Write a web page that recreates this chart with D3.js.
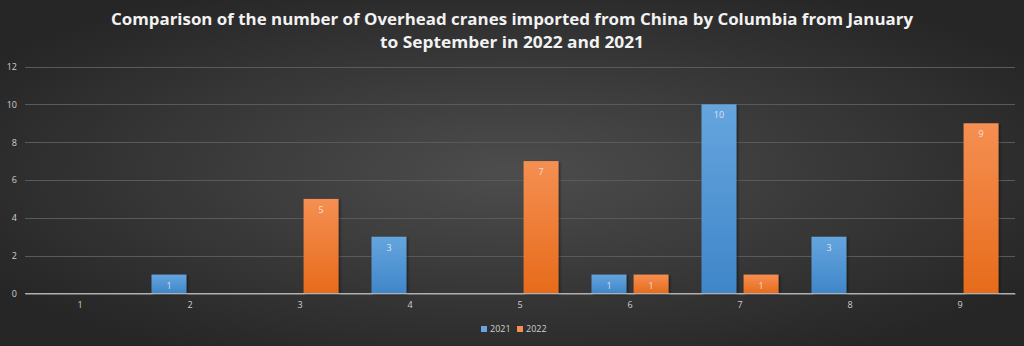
<!DOCTYPE html>
<html><head><meta charset="utf-8">
<script src="https://cdn.jsdelivr.net/npm/d3@7"></script>
<style>html,body{margin:0;padding:0;background:#333;}svg{display:block;}</style>
</head><body>
<svg id="chart" width="1024" height="346"></svg>
<script>
const categories = ["1","2","3","4","5","6","7","8","9"];
const seriesNames = ["2021","2022"];
const values2021 = [0,1,0,3,0,1,10,3,0];
const values2022 = [0,0,5,0,7,1,1,0,9];
const yTicks = [0,2,4,6,8,10,12];
const titleLines = ["Comparison of the number of Overhead cranes imported from China by Columbia from January","to September in 2022 and 2021"];
const colors = {"2021":["#66a5de","#3f86c9"],"2022":["#f58f52","#e76b1b"]};

const W=1024,H=346;
const svg=d3.select("#chart");
const defs=svg.append("defs");
const bg=defs.append("radialGradient").attr("id","bg").attr("cx","50%").attr("cy","50%").attr("r","60%");
bg.append("stop").attr("offset","0%").attr("stop-color","#4d4d4d");
bg.append("stop").attr("offset","100%").attr("stop-color","#262626");
seriesNames.forEach(s=>{
  const g=defs.append("linearGradient").attr("id","g"+s).attr("x1",0).attr("y1",0).attr("x2",0).attr("y2",1);
  g.append("stop").attr("offset","0%").attr("stop-color",colors[s][0]);
  g.append("stop").attr("offset","100%").attr("stop-color",colors[s][1]);
});
const sh=defs.append("filter").attr("id","sh").attr("x","-20%").attr("y","-20%").attr("width","150%").attr("height","150%");
sh.append("feDropShadow").attr("dx",1.5).attr("dy",1).attr("stdDeviation",1.2).attr("flood-color","#000").attr("flood-opacity",0.45);

svg.append("rect").attr("width",W).attr("height",H).attr("fill","url(#bg)");

const pLeft=25,pRight=1015,pTop=66.5,pBottom=293.5;
const y=d3.scaleLinear().domain([0,12]).range([pBottom,pTop]);
const x0=d3.scaleBand().domain(categories).range([pLeft,pRight]).paddingInner(0.3).paddingOuter(0.15);
const x1=d3.scaleBand().domain(seriesNames).range([0,x0.bandwidth()]).paddingInner(0.17);

// grid
svg.append("g").selectAll("line").data(yTicks.filter(d=>d>0)).join("line")
  .attr("x1",pLeft).attr("x2",pRight).attr("y1",d=>Math.round(y(d))+0.5).attr("y2",d=>Math.round(y(d))+0.5)
  .attr("stroke","#5a5a5a").attr("stroke-width",1);

// y labels
const yAxis=d3.axisLeft(y).tickValues(yTicks).tickSize(0).tickPadding(8);
const ya=svg.append("g").attr("transform",`translate(${pLeft},0)`).call(yAxis);
ya.select(".domain").remove();
ya.selectAll("text").attr("fill","#cfcfcf").style("font-family","'Open Sans',sans-serif").style("font-size","9px");

// x axis
const xAxis=d3.axisBottom(x0).tickSize(0).tickPadding(8);
const xa=svg.append("g").attr("transform",`translate(0,${pBottom})`).call(xAxis);
xa.select(".domain").attr("stroke","#b0b0b0").attr("stroke-width",1.2);
xa.selectAll("text").attr("fill","#cfcfcf").style("font-family","'Open Sans',sans-serif").style("font-size","9px");

// bars
const data=categories.map((c,i)=>({cat:c,vals:[{s:"2021",v:values2021[i]},{s:"2022",v:values2022[i]}]}));
const groups=svg.append("g").selectAll("g").data(data).join("g").attr("transform",d=>`translate(${x0(d.cat)},0)`);
const bars=groups.selectAll("g").data(d=>d.vals.filter(e=>e.v>0)).join("g");
bars.append("rect").attr("x",d=>x1(d.s)).attr("width",x1.bandwidth())
  .attr("y",d=>y(d.v)).attr("height",d=>pBottom-y(d.v))
  .attr("fill",d=>`url(#g${d.s})`).attr("filter","url(#sh)");
bars.append("text").attr("x",d=>x1(d.s)+x1.bandwidth()/2).attr("y",d=>y(d.v)+14)
  .attr("text-anchor","middle").attr("fill","#f2f2f2").attr("fill-opacity",0.85)
  .style("font-family","'Open Sans',sans-serif").style("font-size","9px").text(d=>d.v);

// redraw baseline over bars
svg.append("line").attr("x1",pLeft).attr("x2",pRight).attr("y1",pBottom).attr("y2",pBottom).attr("stroke","#b0b0b0").attr("stroke-width",1.2);

// title
const tt=svg.append("g");
tt.append("text").attr("x",512).attr("y",25).attr("text-anchor","middle").attr("fill","#f2f2f2")
  .style("font-family","'Open Sans',sans-serif").style("font-weight","bold").style("font-size","15.5px")
  .attr("textLength",802).attr("lengthAdjust","spacingAndGlyphs").text(titleLines[0]);
tt.append("text").attr("x",512).attr("y",48).attr("text-anchor","middle").attr("fill","#f2f2f2")
  .style("font-family","'Open Sans',sans-serif").style("font-weight","bold").style("font-size","15.5px")
  .attr("textLength",264).attr("lengthAdjust","spacingAndGlyphs").text(titleLines[1]);

// legend
const leg=svg.append("g");
const legX={"2021":481,"2022":517};
seriesNames.forEach(s=>{
  leg.append("rect").attr("x",legX[s]).attr("y",326).attr("width",6).attr("height",6).attr("fill",colors[s][0]);
  leg.append("text").attr("x",legX[s]+9).attr("y",332).attr("fill","#cfcfcf")
    .style("font-family","'Open Sans',sans-serif").style("font-size","9px").text(s);
});
</script>
</body></html>
